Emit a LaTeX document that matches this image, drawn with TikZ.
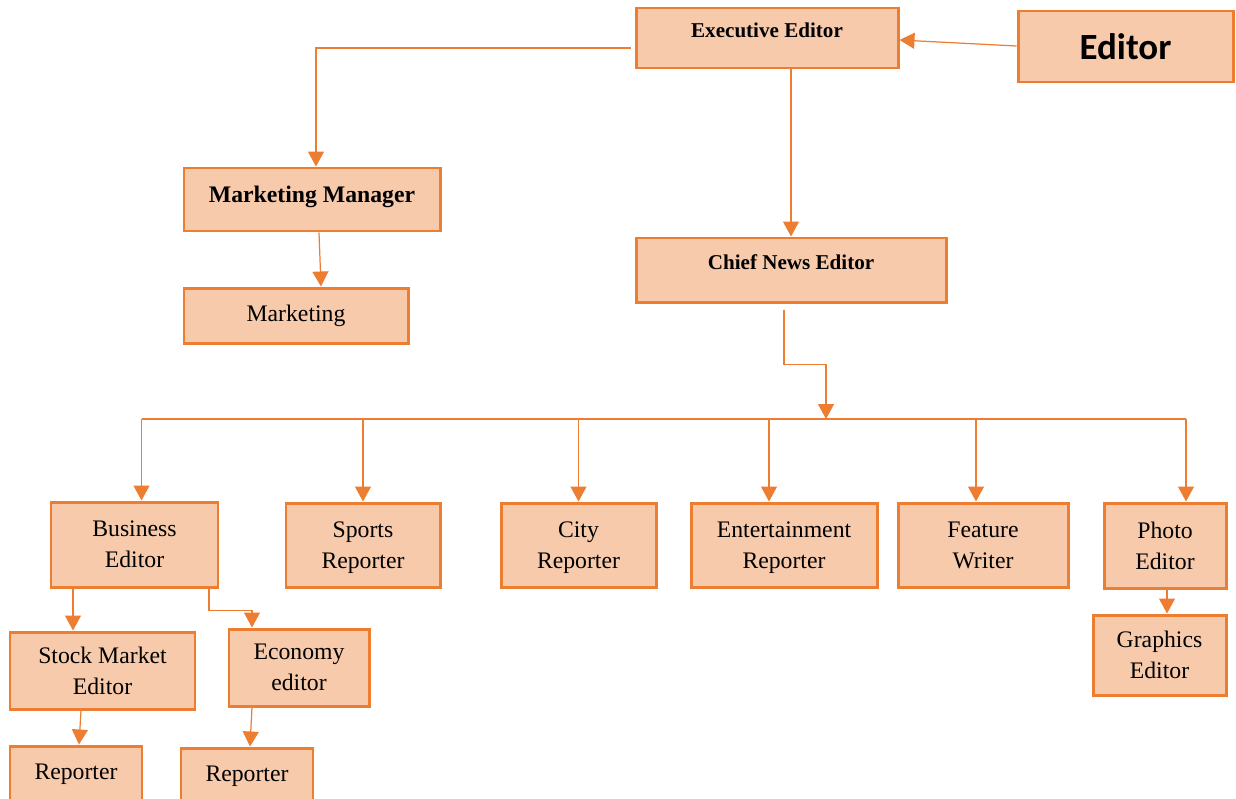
\documentclass[tikz,border=0pt]{standalone}
\usepackage{fontspec}
\setmainfont{Liberation Serif}
\newfontfamily\calibri{Carlito}
\usetikzlibrary{arrows.meta}
\definecolor{boxfill}{HTML}{F7CAAC}
\definecolor{boxline}{HTML}{ED7D31}
\begin{document}
\begin{tikzpicture}[
    mybox/.style={draw=boxline, fill=boxfill, line width=1.7pt, align=center, inner sep=0pt,
      font=\fontsize{13.5}{17.6}\selectfont},
    mytwo/.style={mybox, text depth=0pt},
    myline/.style={draw=boxline, line width=0.7pt, -{Triangle[width=0.32cm,length=0.3cm]}},
    myplain/.style={draw=boxline, line width=0.7pt}]
    \useasboundingbox (0,0) rectangle (24.72,-15.96);
    \clip (0,0) rectangle (24.72,-15.96);
    % top level
    \node[mybox, minimum width=5.24cm, minimum height=1.2cm, text depth=0.3cm, font=\bfseries\fontsize{12}{14}\selectfont] (exec) at (15.34,-0.76) {Executive Editor};
    \node[mybox, minimum width=4.3cm, minimum height=1.42cm, font=\calibri\bfseries\fontsize{21}{25}\selectfont] (editor) at (22.51,-0.93) {Editor};
    \node[mybox, minimum width=5.12cm, minimum height=1.26cm, text depth=0.2cm, font=\bfseries\fontsize{13.5}{16}\selectfont] (mm) at (6.24,-3.99) {Marketing Manager};
    \node[mybox, minimum width=4.48cm, minimum height=1.1cm] (mkt) at (5.92,-6.31) {Marketing};
    \node[mybox, minimum width=6.2cm, minimum height=1.28cm, text depth=0.3cm, font=\bfseries\fontsize{12}{14}\selectfont] (chief) at (15.82,-5.4) {Chief News Editor};
    % second level
    \node[mytwo, minimum width=3.34cm, minimum height=1.7cm] (bus) at (2.69,-10.89) {Business\\Editor};
    \node[mytwo, minimum width=3.08cm, minimum height=1.68cm] (sports) at (7.26,-10.9) {Sports\\Reporter};
    \node[mytwo, minimum width=3.1cm, minimum height=1.68cm] (city) at (11.57,-10.9) {City\\Reporter};
    \node[mytwo, minimum width=3.72cm, minimum height=1.68cm] (ent) at (15.68,-10.9) {Entertainment\\Reporter};
    \node[mytwo, minimum width=3.4cm, minimum height=1.68cm] (feat) at (19.66,-10.9) {Feature\\Writer};
    \node[mytwo, minimum width=2.44cm, minimum height=1.7cm] (photo) at (23.3,-10.91) {Photo\\Editor};
    % third level
    \node[mytwo, minimum width=2.66cm, minimum height=1.6cm] (graph) at (23.19,-13.1) {Graphics\\Editor};
    \node[mytwo, minimum width=3.7cm, minimum height=1.54cm] (stock) at (2.05,-13.41) {Stock Market\\Editor};
    \node[mytwo, minimum width=2.8cm, minimum height=1.54cm] (econ) at (5.98,-13.35) {Economy\\editor};
    \node[mybox, minimum width=2.64cm, minimum height=1.12cm] (rep1) at (1.52,-15.48) {Reporter};
    \node[mybox, minimum width=2.64cm, minimum height=1.12cm] (rep2) at (4.94,-15.52) {Reporter};
    % connectors
    \draw[myline] ([xshift=-0.08cm,yshift=-0.2cm]exec.west) -| ([xshift=0.08cm]mm.north);
    \draw[myline] ([yshift=0.01cm]editor.west) -- ([yshift=-0.04cm]exec.east);
    \draw[myline] (chief.north |- exec.south) -- (chief.north);
    \draw[myline] ([xshift=0.14cm]mm.south) -- ([xshift=0.5cm]mkt.north);
    \coordinate (busmid) at (16.52,-8.38);
    \coordinate (busL) at (2.84,-8.38);
    \coordinate (busR) at (23.72,-8.38);
    \draw[myline] ([xshift=-0.14cm,yshift=-0.12cm]chief.south) -- ++(0,-1.1) -| (busmid);
    \draw[myplain] (busL) -- (busR);
    \foreach \n/\dx in {bus/0.14,sports/0,city/0,ent/-0.3,feat/-0.14,photo/0.42}{
      \draw[myline] ([xshift=\dx cm]\n.north |- busL) -- ([xshift=\dx cm]\n.north);
    }
    \draw[myline] ([xshift=-1.23cm]bus.south) -- ([xshift=-1.23cm]bus.south |- stock.north);
    \draw[myline] ([xshift=1.49cm]bus.south) -- ++(0,-0.44) -| ([xshift=-0.94cm]econ.north);
    \draw[myline] ([xshift=-0.43cm]stock.south) -- ([xshift=0.06cm]rep1.north);
    \draw[myline] ([xshift=-0.94cm]econ.south) -- ([xshift=0.06cm]rep2.north);
    \draw[myline] ([xshift=0.04cm]photo.south) -- ([xshift=0.15cm]graph.north);
\end{tikzpicture}
\end{document}
